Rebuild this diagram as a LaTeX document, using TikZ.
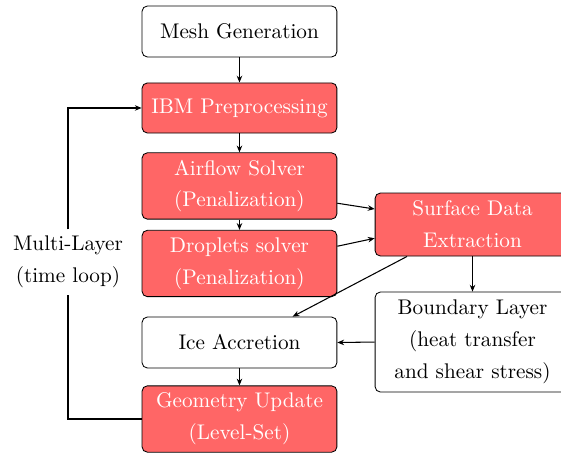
\documentclass[tikz,border=0pt]{standalone}
\usepackage{tikz}
\usetikzlibrary{positioning, arrows.meta, calc}

\begin{document}
\begin{tikzpicture}[
    box/.style={rectangle, draw, rounded corners=2.5pt, minimum width=3.23cm, minimum height=0.845cm, align=center, inner sep=1pt, font=\fontsize{10}{15}\selectfont},
    redbox/.style={box, fill=red!60, text=white},
    flow/.style={->, >={Stealth[length=3.2pt, width=2.6pt]}, line width=0.5pt}
]

\useasboundingbox (-3.970,0.522) rectangle (5.330,-7.037);
\clip (-3.970,0.522) rectangle (5.330,-7.037);

% Colonna principale
\node[box] (mesh) at (0,0) {Mesh Generation};
\node[redbox, minimum height=0.83cm] (ibm) at (0,-1.268) {IBM Preprocessing};
\node[redbox, minimum height=1.10cm] (air) at (0,-2.561) {Airflow Solver\\(Penalization)};
\node[redbox, minimum height=1.10cm] (drop) at (0,-3.846) {Droplets solver\\(Penalization)};
\node[box] (ice) at (0,-5.156) {Ice Accretion};
\node[redbox, minimum height=1.10cm] (geo) at (0,-6.424) {Geometry Update\\(Level-Set)};

% Colonna destra
\node[redbox, minimum height=1.044cm] (surf) at (3.863,-3.200) {Surface Data\\Extraction};
\node[box, minimum height=1.658cm] (bl) at (3.863,-5.148) {Boundary Layer\\(heat transfer\\and shear stress)};

% Ciclo temporale
\node[fill=white, align=center, inner sep=3pt, font=\fontsize{10}{15}\selectfont] (loop) at (-2.843,-3.821) {Multi-Layer\\(time loop)};

% Frecce
\draw[flow] (mesh) -- (ibm);
\draw[flow] (ibm) -- (air);
\draw[flow] (air) -- (drop);
\draw[flow] (air.-10) -- (surf.171.5);
\draw[flow] (drop.10) -- (surf.188);
\draw[flow] (surf.206.4) -- (ice.26);
\draw[flow] (surf.south) -- (bl.north);
\draw[flow] (bl.west) -- (ice.east);
\draw[flow] (ice) -- (geo);

\draw[line width=0.5pt] (geo.west) -| (loop.south);
\draw[flow] (loop.north) |- (ibm.west);

\end{tikzpicture}
\end{document}
